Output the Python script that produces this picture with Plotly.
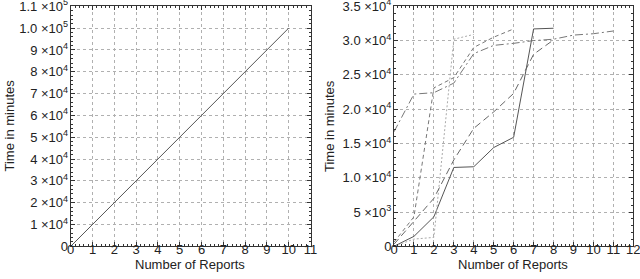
import plotly.graph_objects as go

# ---- data ----
left_x = [0, 10]
left_y = [0, 100000]

s_solid_x = [0, 1, 2, 3, 4, 5, 6, 7, 8]
s_solid_y = [0, 1450, 4300, 11500, 11600, 14400, 15900, 31700, 31800]

s_dot_x = [0, 1, 2, 3, 4]
s_dot_y = [0, 1050, 1300, 30200, 30900]

s_dashdot_x = [0, 1, 2, 3, 4, 5, 6, 7, 8, 9, 10, 11]
s_dashdot_y = [16700, 22200, 22400, 23800, 28100, 29300, 29600, 30000, 30200, 30800, 31000, 31400]

s_dash_x = [0, 1, 2, 3, 4, 5, 6]
s_dash_y = [600, 4300, 23100, 24600, 29000, 30500, 31700]

s_longdash_x = [0, 1, 2, 3, 4, 5, 6, 7, 8]
s_longdash_y = [300, 3600, 7000, 12600, 17200, 19600, 22300, 28000, 30100]

left_yticks = [0, 10000, 20000, 30000, 40000, 50000, 60000, 70000, 80000, 90000, 100000, 110000]
left_yticktext = ["0", "1 ×10<sup>4</sup>", "2 ×10<sup>4</sup>", "3 ×10<sup>4</sup>", "4 ×10<sup>4</sup>",
                  "5 ×10<sup>4</sup>", "6 ×10<sup>4</sup>", "7 ×10<sup>4</sup>", "8 ×10<sup>4</sup>",
                  "9 ×10<sup>4</sup>", "1.0 ×10<sup>5</sup>", "1.1 ×10<sup>5</sup>"]
right_yticks = [0, 5000, 10000, 15000, 20000, 25000, 30000, 35000]
right_yticktext = ["0", "5 ×10<sup>3</sup>", "1.0 ×10<sup>4</sup>", "1.5 ×10<sup>4</sup>",
                   "2.0 ×10<sup>4</sup>", "2.5 ×10<sup>4</sup>", "3.0 ×10<sup>4</sup>", "3.5 ×10<sup>4</sup>"]

FONT = "Liberation Sans, Arial, sans-serif"
W, H = 640, 279
FS = 13

fig = go.Figure()
fig.add_trace(go.Scatter(x=left_x, y=left_y, mode="lines",
                         line=dict(color="#555555", width=1), xaxis="x", yaxis="y"))

right_series = [
    (s_solid_x, s_solid_y, "#555555", "solid"),
    (s_dot_x, s_dot_y, "#aaaaaa", "2px,2px"),
    (s_dashdot_x, s_dashdot_y, "#777777", "8px,3px,2px,3px"),
    (s_dash_x, s_dash_y, "#777777", "4px,3px"),
    (s_longdash_x, s_longdash_y, "#666666", "7px,4px"),
]
for xs, ys, col, dash in right_series:
    fig.add_trace(go.Scatter(x=xs, y=ys, mode="lines",
                             line=dict(color=col, width=1, dash=dash),
                             xaxis="x2", yaxis="y2"))

y0 = (H - 246.3) / H
y1 = (H - 6.3) / H
common = dict(showline=True, linecolor="#333333", linewidth=1, mirror="ticks",
              ticks="inside", ticklen=4, tickcolor="#333333",
              showgrid=True, gridcolor="#b0b0b0", griddash="dot", gridwidth=1,
              zeroline=False, ticklabeloverflow="allow", automargin=False,
              tickfont=dict(family=FONT, size=FS, color="#222222"))

fig.update_layout(
    template="none",
    width=W, height=H,
    margin=dict(l=0, r=0, t=0, b=0, autoexpand=False),
    paper_bgcolor="white", plot_bgcolor="white",
    showlegend=False,
    font=dict(family=FONT, size=FS, color="#222222"),
    xaxis=dict(domain=[70.7 / W, 310.5 / W], range=[0, 11], tickvals=list(range(0, 12)),
               minor=dict(dtick=0.2, ticks="inside", ticklen=2, tickcolor="#333333", showgrid=False),
               anchor="y", ticklabelstandoff=-9, **common),
    yaxis=dict(domain=[y0, y1], range=[0, 110000], tickvals=left_yticks, ticktext=left_yticktext,
               minor=dict(dtick=2000, ticks="inside", ticklen=2, tickcolor="#333333", showgrid=False),
               anchor="x", ticklabelstandoff=-1, **common),
    xaxis2=dict(domain=[394 / W, 633.3 / W], range=[0, 12], tickvals=list(range(0, 13)),
                minor=dict(dtick=0.2, ticks="inside", ticklen=2, tickcolor="#333333", showgrid=False),
                anchor="y2", ticklabelstandoff=-9, **common),
    yaxis2=dict(domain=[y0, y1], range=[0, 35000], tickvals=right_yticks, ticktext=right_yticktext,
                minor=dict(dtick=1000, ticks="inside", ticklen=2, tickcolor="#333333", showgrid=False),
                anchor="x2", ticklabelstandoff=-1, **common),
    annotations=[
        dict(text="Number of Reports", x=190 / W, y=(H - 264) / H, xref="paper", yref="paper",
             xanchor="center", yanchor="middle",
             showarrow=False, font=dict(family=FONT, size=FS, color="#222222")),
        dict(text="Number of Reports", x=513 / W, y=(H - 264) / H, xref="paper", yref="paper",
             xanchor="center", yanchor="middle",
             showarrow=False, font=dict(family=FONT, size=FS, color="#222222")),
        dict(text="Time in minutes", x=8.5 / W, y=(H - 126) / H, xref="paper", yref="paper",
             xanchor="center", yanchor="middle",
             textangle=-90, showarrow=False, font=dict(family=FONT, size=FS, color="#222222")),
        dict(text="Time in minutes", x=329 / W, y=(H - 126) / H, xref="paper", yref="paper",
             xanchor="center", yanchor="middle",
             textangle=-90, showarrow=False, font=dict(family=FONT, size=FS, color="#222222")),
    ],
)

fig.write_html("out.html", config={"displayModeBar": False},
               post_script="document.body.style.margin='0';document.body.style.overflow='hidden';")
